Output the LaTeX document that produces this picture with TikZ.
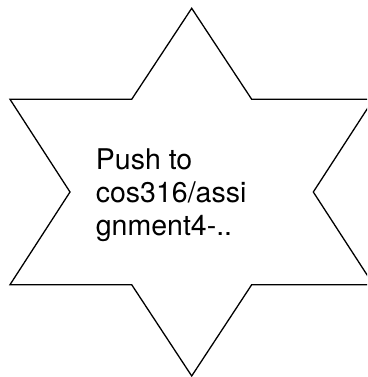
\documentclass[tikz,border=0pt]{standalone}
\usepackage{fontspec}
\setmainfont{TeX Gyre Heros}
\usepackage{tikz}

\begin{document}
\begin{tikzpicture}[
			x=1pt, y=-1pt,
			star/.style={draw, line width=1.3pt, line join=miter, fill=white},
			label/.style={align=left, inner sep=0pt, font=\fontsize{28.5}{33}\selectfont},
			]
			
			%% ── Frame ─────────────────────────────────────────────────────────────
			\useasboundingbox (0,0) rectangle (367,377);
			\clip (0,0) rectangle (367,377);
			
			%% ── Six-pointed star ──────────────────────────────────────────────────
			\draw[star] (191.7,8.3) -- (251.7,99.3) -- (373.4,99.3) -- (313.3,192)
			-- (373.4,284.7) -- (251.7,284.7) -- (191.7,376) -- (131.7,284.7)
			-- (10,284.7) -- (70,192) -- (10,99.3) -- (131.7,99.3) -- cycle;
			
			%% ── Text (anchored at the baseline of the last line) ──────────────────
			\node[label, anchor=base west] (push) at (95.7,235.5)
			{Push to\\cos316/assi\\gnment4-..};
			
		\end{tikzpicture}
\end{document}
